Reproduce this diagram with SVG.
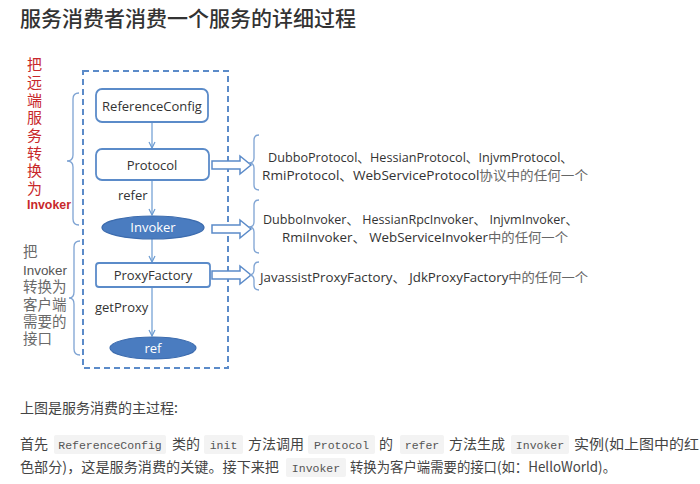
<svg xmlns="http://www.w3.org/2000/svg" width="700" height="484" viewBox="0 0 700 484">
<style>
.title{font-family:"Noto Sans CJK SC","Noto Sans",sans-serif;font-size:21px;fill:#333;font-weight:500}
.box{fill:#fff;stroke:#5b8bc9;stroke-width:1.8}
.ell{fill:#4a7cc0;stroke:#3d6cae;stroke-width:1.2}
.ntext{font-family:"Open Sans","Noto Sans",sans-serif;font-size:13px;fill:#333;text-anchor:middle}
.wtext{font-family:"Open Sans","Noto Sans",sans-serif;font-size:13px;fill:#fff;text-anchor:middle}
.lbl{font-family:"Open Sans","Noto Sans",sans-serif;font-size:13px;fill:#333}
.conn{stroke:#6b9bd2;stroke-width:1.2;fill:none}
.block{fill:#fff;stroke:#5b8bc9;stroke-width:1.5}
.brace{fill:none;stroke:#7ea3d3;stroke-width:1.3}
.rt{font-family:"Open Sans","Noto Sans","Noto Sans CJK SC",sans-serif;font-size:13px;fill:#333}
.cj{font-family:"Noto Sans CJK SC",sans-serif;fill:#666}
.red{font-family:"Liberation Sans","Noto Sans CJK SC",sans-serif;font-size:15px;fill:#c8282c}
.redb{font-family:"Liberation Sans",sans-serif;font-size:13px;font-weight:bold;fill:#c8282c}
.gray{font-family:"Liberation Sans","Noto Sans CJK SC",sans-serif;font-size:14.5px;fill:#6a6a6a}
.lat{font-family:"Liberation Sans",sans-serif;font-size:13.5px;fill:#555}
.para{font-family:"Noto Sans CJK SC","Noto Sans",sans-serif;font-size:14px;fill:#444}
.code{font-family:"Liberation Mono",monospace;font-size:11.5px;fill:#555;text-anchor:middle}
.cbg{fill:#f3f3f3}
</style>
<defs>
<marker id="ah" markerWidth="8" markerHeight="8" refX="7" refY="4" orient="auto" markerUnits="userSpaceOnUse">
<path d="M1,1 L7,4 L1,7" fill="none" stroke="#6b9bd2" stroke-width="1.2"/>
</marker>
</defs>
<rect width="700" height="484" fill="#fff"/>
<text class="title" x="20" y="26">服务消费者消费一个服务的详细过程</text>

<rect id="frame" x="83" y="71" width="145" height="297" fill="none" stroke="#5b8bc9" stroke-width="2" stroke-dasharray="6 4"/>

<g id="connectors">
<line class="conn" x1="152" y1="122" x2="152" y2="148" marker-end="url(#ah)"/>
<line class="conn" x1="152" y1="180" x2="152" y2="215" marker-end="url(#ah)"/>
<line class="conn" x1="152" y1="239" x2="152" y2="262" marker-end="url(#ah)"/>
<line class="conn" x1="152" y1="287" x2="152" y2="336" marker-end="url(#ah)"/>
<text class="lbl" x="118" y="200">refer</text>
<text class="lbl" x="95" y="312">getProxy</text>
<polygon class="block" points="212,161 240,161 240,156 251,165 240,174 240,169 212,169"/>
<polygon class="block" points="212,225 240,225 240,220 251,229 240,238 240,233 212,233"/>
<polygon class="block" points="212,271 240,271 240,266 251,275 240,284 240,279 212,279"/>
</g>

<g id="n-referenceconfig">
<rect class="box" x="96" y="89" width="112" height="33" rx="6"/>
<text class="ntext" x="152" y="110.5">ReferenceConfig</text>
</g>
<g id="n-protocol">
<rect class="box" x="96" y="149" width="113" height="31" rx="6"/>
<text class="ntext" x="152" y="169.5">Protocol</text>
</g>
<g id="n-invoker">
<ellipse class="ell" cx="153" cy="227.5" rx="51" ry="11.5"/>
<text class="wtext" x="153" y="232">Invoker</text>
</g>
<g id="n-proxyfactory">
<rect class="box" x="96" y="263" width="114" height="24" rx="3"/>
<text class="ntext" x="153" y="279.5">ProxyFactory</text>
</g>
<g id="n-ref">
<ellipse class="ell" cx="153" cy="348" rx="43" ry="11"/>
<text class="wtext" x="153" y="352.5">ref</text>
</g>

<g id="braces">
<path class="brace" d="M79,93 Q73,93 73,99 L73,155 Q73,161 67,161 Q73,161 73,167 L73,219 Q73,225 79,225"/>
<path class="brace" d="M80,241 Q74,241 74,247 L74,292 Q74,298 69,298 Q74,298 74,304 L74,349 Q74,355 80,355"/>
<path class="brace" d="M259,135 Q254,135 254,140 L254,158 Q254,163 249,163 Q254,163 254,168 L254,185 Q254,190 259,190"/>
<path class="brace" d="M259,200 Q254,200 254,205 L254,222 Q254,227 249,227 Q254,227 254,232 L254,248 Q254,253 259,253"/>
<path class="brace" d="M259,262 Q254,262 254,267 L254,270 Q254,275 249,275 Q254,275 254,280 L254,285 Q254,290 259,290"/>
</g>

<g id="left-labels">
<text class="red" x="27" y="70">把</text>
<text class="red" x="27" y="88">远</text>
<text class="red" x="27" y="106">端</text>
<text class="red" x="27" y="123">服</text>
<text class="red" x="27" y="141">务</text>
<text class="red" x="27" y="159">转</text>
<text class="red" x="27" y="176">换</text>
<text class="red" x="27" y="194">为</text>
<text class="redb" x="27" y="209" textLength="44" lengthAdjust="spacingAndGlyphs">Invoker</text>
<text class="gray" x="23" y="257">把</text>
<text class="lat" x="23" y="275" textLength="44" lengthAdjust="spacingAndGlyphs">Invoker</text>
<text class="gray" x="23" y="292">转换为</text>
<text class="gray" x="23" y="310">客户端</text>
<text class="gray" x="23" y="327">需要的</text>
<text class="gray" x="23" y="344">接口</text>
</g>

<g id="right-labels">
<text class="rt" x="268" y="162" textLength="305" lengthAdjust="spacingAndGlyphs">DubboProtocol、HessianProtocol、InjvmProtocol、</text>
<text class="rt" x="262" y="180" textLength="326" lengthAdjust="spacingAndGlyphs">RmiProtocol、WebServiceProtocol<tspan class="cj">协议中的任何一个</tspan></text>
<text class="rt" x="263" y="224" textLength="315" lengthAdjust="spacingAndGlyphs">DubboInvoker、 HessianRpcInvoker、 InjvmInvoker、</text>
<text class="rt" x="282" y="242" textLength="286" lengthAdjust="spacingAndGlyphs">RmiInvoker、 WebServiceInvoker<tspan class="cj">中的任何一个</tspan></text>
<text class="rt" x="260" y="282" textLength="328" lengthAdjust="spacingAndGlyphs">JavassistProxyFactory、 JdkProxyFactory<tspan class="cj">中的任何一个</tspan></text>
</g>

<g id="paragraph">
<text class="para" x="20" y="413">上图是服务消费的主过程:</text>
<rect class="cbg" x="54" y="435" width="112" height="19" rx="2"/>
<rect class="cbg" x="204" y="435" width="39" height="19" rx="2"/>
<rect class="cbg" x="308" y="435" width="67" height="19" rx="2"/>
<rect class="cbg" x="400" y="435" width="44" height="19" rx="2"/>
<rect class="cbg" x="511" y="435" width="58" height="19" rx="2"/>
<rect class="cbg" x="286" y="458" width="60" height="19" rx="2"/>
<text class="para" x="20" y="449">首先</text>
<text class="code" x="110" y="448.5">ReferenceConfig</text>
<text class="para" x="172" y="449">类的</text>
<text class="code" x="223.5" y="448.5">init</text>
<text class="para" x="248" y="449">方法调用</text>
<text class="code" x="341.5" y="448.5">Protocol</text>
<text class="para" x="379" y="449">的</text>
<text class="code" x="422" y="448.5">refer</text>
<text class="para" x="449" y="449">方法生成</text>
<text class="code" x="540" y="448.5">Invoker</text>
<text class="para" x="574" y="449" textLength="125" lengthAdjust="spacingAndGlyphs">实例(如上图中的红</text>
<text class="para" x="20" y="472" textLength="259" lengthAdjust="spacingAndGlyphs">色部分)，这是服务消费的关键。接下来把</text>
<text class="code" x="316" y="471.5">Invoker</text>
<text class="para" x="350" y="472" textLength="266" lengthAdjust="spacingAndGlyphs">转换为客户端需要的接口(如：HelloWorld)。</text>
</g>
</svg>
